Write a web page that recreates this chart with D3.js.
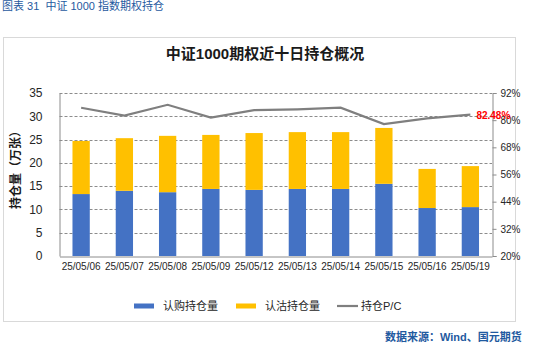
<!DOCTYPE html>
<html>
<head>
<meta charset="utf-8">
<script src="https://cdn.jsdelivr.net/npm/d3@7"></script>
<style>
  body { margin: 0; background: #fff; }
  text { font-family: "Liberation Sans", Arial, "Noto Sans CJK SC", sans-serif; }
</style>
</head>
<body>
<svg id="chart"></svg>
<script>
const width = 546;
const height = 363;

const dates = ["25/05/06", "25/05/07", "25/05/08", "25/05/09", "25/05/12",
               "25/05/13", "25/05/14", "25/05/15", "25/05/16", "25/05/19"];
const callOI = [13.3, 14.0, 13.7, 14.4, 14.2, 14.4, 14.4, 15.5, 10.3, 10.5];
const putOI = [11.4, 11.3, 12.1, 11.6, 12.2, 12.2, 12.2, 12.0, 8.4, 8.8];
const pcRatio = [85.5, 82.0, 86.8, 81.1, 84.4, 84.8, 85.5, 78.3, 80.8, 82.48];
const leftTicks = [0, 5, 10, 15, 20, 25, 30, 35];
const rightTicks = [20, 32, 44, 56, 68, 80, 92];

const blue = "#4472c4";
const yellow = "#ffc000";
const lineGray = "#7f7f7f";
const headBlue = "#1f5aa0";

const svg = d3.select("#chart").attr("width", width).attr("height", height);

// header + outer frame
svg.append("text").attr("x", 2).attr("y", 10)
  .attr("fill", headBlue).attr("font-size", 11)
  .style("white-space", "pre")
  .text("图表 31  中证 1000 指数期权持仓");

svg.append("rect").attr("x", 3.5).attr("y", 37.5).attr("width", 512).attr("height", 284)
  .attr("fill", "none").attr("stroke", "#d9d9d9");

svg.append("text").attr("x", 265).attr("y", 59).attr("text-anchor", "middle")
  .attr("font-size", 15).attr("font-weight", "bold").attr("fill", "#1a1a1a")
  .text("中证1000期权近十日持仓概况");

const x = d3.scaleBand().domain(dates).range([59.5, 492]).paddingInner(0.6).paddingOuter(0.3);
const y = d3.scaleLinear().domain([0, 35]).range([256, 93]);
const y2 = d3.scaleLinear().domain([20, 92]).range([256, 93]);

// gridlines
svg.append("g").selectAll("line").data(leftTicks.filter(d => d > 0)).join("line")
  .attr("x1", 59.5).attr("x2", 492)
  .attr("y1", d => Math.round(y(d)) + 0.5).attr("y2", d => Math.round(y(d)) + 0.5)
  .attr("stroke", "#8c8c8c").attr("stroke-dasharray", "3,2");

// stacked bars
const stack = dates.map((d, i) => ({ date: d, call: callOI[i], put: putOI[i] }));
svg.append("g").selectAll("rect").data(stack).join("rect")
  .attr("x", d => x(d.date)).attr("width", x.bandwidth())
  .attr("y", d => y(d.call)).attr("height", d => y(0) - y(d.call))
  .attr("fill", blue);
svg.append("g").selectAll("rect").data(stack).join("rect")
  .attr("x", d => x(d.date)).attr("width", x.bandwidth())
  .attr("y", d => y(d.call + d.put)).attr("height", d => y(d.call) - y(d.call + d.put))
  .attr("fill", yellow);

// P/C line
const line = d3.line()
  .x((d, i) => x(dates[i]) + x.bandwidth() / 2)
  .y(d => y2(d));
svg.append("path").datum(pcRatio).attr("d", line)
  .attr("fill", "none").attr("stroke", lineGray).attr("stroke-width", 2.2);

// axes
const axisColor = "#8c8c8c";
const gLeft = svg.append("g").attr("transform", "translate(59.5,0)")
  .call(d3.axisLeft(y).tickValues(leftTicks).tickSize(0).tickPadding(17));
gLeft.select(".domain").attr("stroke", axisColor);
gLeft.selectAll("text").attr("font-size", 12).attr("fill", "#262626")
  .attr("font-family", "'Liberation Sans', Arial, sans-serif");

const gRight = svg.append("g").attr("transform", "translate(492.5,0)")
  .call(d3.axisRight(y2).tickValues(rightTicks).tickSize(4).tickPadding(4).tickFormat(d => d + "%"));
gRight.selectAll(".domain, line").attr("stroke", axisColor);
gRight.selectAll("text").attr("font-size", 10).attr("fill", "#262626")
  .attr("font-family", "'Liberation Sans', Arial, sans-serif");

const gBottom = svg.append("g").attr("transform", "translate(0,256.5)")
  .call(d3.axisBottom(x).tickSize(0).tickPadding(6));
gBottom.select(".domain").attr("stroke", axisColor);
gBottom.selectAll("text").attr("font-size", 10).attr("fill", "#262626")
  .attr("font-family", "'Liberation Sans', Arial, sans-serif");

// data label on the last point, drawn over the right axis labels as in the source
const last = pcRatio.length - 1;
svg.append("text")
  .attr("x", x(dates[last]) + x.bandwidth() / 2 + 6)
  .attr("y", y2(pcRatio[last]) + 4)
  .attr("fill", "#ff0000").attr("font-size", 10).attr("font-weight", "bold")
  .text(pcRatio[last].toFixed(2) + "%");

svg.append("text")
  .attr("transform", "translate(20,167) rotate(-90)")
  .attr("text-anchor", "middle").attr("font-size", 12).attr("font-weight", "bold")
  .attr("fill", "#1a1a1a")
  .text("持仓量（万张）");

// legend
const legend = [
  { name: "认购持仓量", type: "rect", color: blue, x: 134 },
  { name: "认沽持仓量", type: "rect", color: yellow, x: 236 },
  { name: "持仓P/C", type: "line", color: lineGray, x: 337 }
];
const lg = svg.append("g").selectAll("g").data(legend).join("g")
  .attr("transform", d => `translate(${d.x},306)`);
lg.filter(d => d.type === "rect").append("rect")
  .attr("x", 0).attr("y", -2.5).attr("width", 20).attr("height", 5).attr("fill", d => d.color);
lg.filter(d => d.type === "line").append("line")
  .attr("x1", 0).attr("x2", 21).attr("y1", 0).attr("y2", 0)
  .attr("stroke", d => d.color).attr("stroke-width", 2.2);
lg.append("text").attr("x", d => d.type === "line" ? 24 : 29).attr("y", 4)
  .attr("font-size", 11).attr("fill", "#262626").text(d => d.name);

svg.append("text").attr("x", 385).attr("y", 341)
  .attr("fill", headBlue).attr("font-size", 11).attr("font-weight", "bold")
  .text("数据来源：Wind、国元期货");
</script>
</body>
</html>
